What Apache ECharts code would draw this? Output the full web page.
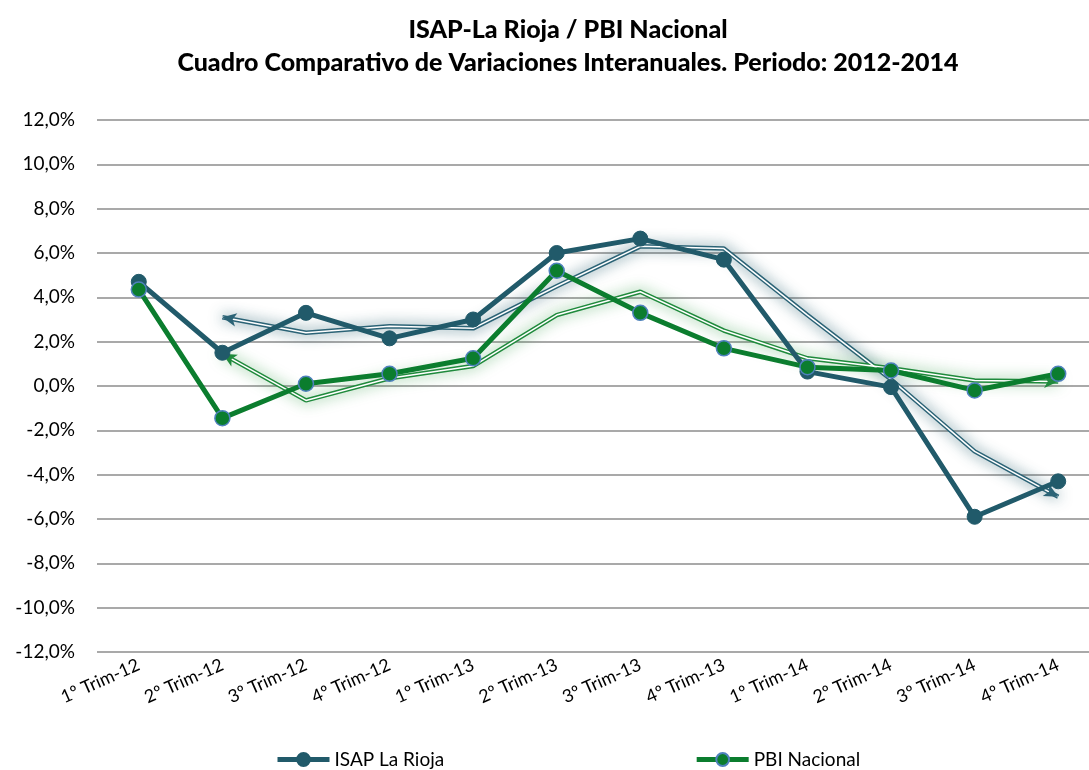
<!DOCTYPE html>
<html>
<head>
<meta charset="utf-8">
<script src="https://cdn.jsdelivr.net/npm/echarts@6/dist/echarts.min.js"></script>
<style>html,body{margin:0;padding:0;background:#fff;overflow:hidden;width:1089px;height:770px;}#c{width:1136px;height:770px;}</style>
</head>
<body>
<div id="c"></div>
<script>
const categories = ['1º Trim-12','2º Trim-12','3º Trim-12','4º Trim-12','1º Trim-13','2º Trim-13','3º Trim-13','4º Trim-13','1º Trim-14','2º Trim-14','3º Trim-14','4º Trim-14'];
const isapValues = [4.7, 1.5, 3.3, 2.15, 3.0, 6.0, 6.65, 5.7, 0.65, -0.05, -5.9, -4.3];
const pbiValues = [4.35, -1.45, 0.1, 0.55, 1.25, 5.2, 3.3, 1.7, 0.85, 0.7, -0.2, 0.55];
const isapTrend = [null, 3.1, 2.4, 2.7, 2.6, 4.5, 6.3, 6.2, 3.2, 0.3, -2.95, -5.0];
const pbiTrend = [null, 1.45, -0.65, 0.35, 0.9, 3.2, 4.25, 2.5, 1.25, 0.8, 0.25, 0.2];
const yTicks = [-12, -10, -8, -6, -4, -2, 0, 2, 4, 6, 8, 10, 12];

const TEAL = '#215a6a';
const GREEN = '#0b7d2e';
const FONT = 'Lato, "Open Sans", sans-serif';

function trendSeries(name, data, color, glow) {
  const first = data.findIndex(v => v !== null);
  const last = data.length - 1;
  return [{
    name: name,
    type: 'line',
    data: data,
    symbol: 'none',
    z: 1,
    silent: true,
    lineStyle: { color: color, width: 4.5, shadowBlur: 14, shadowColor: glow },
    markLine: {
      silent: true,
      symbolSize: [10, 14],
      label: { show: false },
      lineStyle: { color: color, width: 0, type: 'solid' },
      data: [
        [{ coord: [categories[first + 1], data[first + 1]], symbol: 'none' },
         { coord: [categories[first], data[first]], symbol: 'arrow' }],
        [{ coord: [categories[last - 1], data[last - 1]], symbol: 'none' },
         { coord: [categories[last], data[last]], symbol: 'arrow' }]
      ]
    }
  }, {
    name: name + '_inner',
    type: 'line',
    data: data,
    symbol: 'none',
    z: 2,
    silent: true,
    lineStyle: { color: '#ffffff', width: 1.5 }
  }];
}

const chart = echarts.init(document.getElementById('c'), null, { renderer: 'canvas' });
chart.setOption({
  animation: false,
  backgroundColor: '#ffffff',
  title: {
    text: 'ISAP-La Rioja / PBI Nacional\nCuadro Comparativo de Variaciones Interanuales. Periodo: 2012-2014',
    left: 'center',
    top: 8,
    textStyle: { fontFamily: FONT, fontWeight: 900, fontSize: 25, lineHeight: 33, color: '#000' }
  },
  legend: {
    data: ['ISAP La Rioja', 'PBI Nacional'],
    top: 745,
    left: 270,
    itemWidth: 52,
    itemHeight: 16,
    itemGap: 250,
    lineStyle: { width: 5 },
    textStyle: { fontFamily: FONT, fontSize: 19, color: '#000' }
  },
  grid: { left: 97, top: 120, right: 36, height: 532, containLabel: false },
  xAxis: {
    type: 'category',
    data: categories,
    boundaryGap: true,
    axisLine: { show: false },
    axisTick: { show: false },
    axisLabel: { rotate: 24, fontFamily: FONT, fontSize: 18, color: '#000', margin: 12, interval: 0 }
  },
  yAxis: {
    type: 'value',
    min: yTicks[0],
    max: yTicks[yTicks.length - 1],
    interval: 2,
    axisLine: { show: false },
    axisTick: { show: false },
    splitLine: { lineStyle: { color: '#8c8c8c', width: 1.5 } },
    axisLabel: {
      fontFamily: FONT, fontSize: 19, color: '#000', margin: 22,
      formatter: v => v.toFixed(1).replace('.', ',') + '%'
    }
  },
  series: [
    ...trendSeries('ISAP tendencia', isapTrend, '#2b6376', 'rgba(33,90,106,0.8)'),
    ...trendSeries('PBI tendencia', pbiTrend, '#1f8a3c', 'rgba(40,150,60,0.65)'),
    {
      name: 'ISAP La Rioja',
      type: 'line',
      data: isapValues,
      z: 5,
      symbol: 'circle',
      symbolSize: 15,
      lineStyle: { color: TEAL, width: 5 },
      itemStyle: { color: TEAL, borderColor: TEAL, borderWidth: 1 }
    },
    {
      name: 'PBI Nacional',
      type: 'line',
      data: pbiValues,
      z: 6,
      symbol: 'circle',
      symbolSize: 15,
      lineStyle: { color: GREEN, width: 5 },
      itemStyle: { color: GREEN, borderColor: '#4f81bd', borderWidth: 1.5 }
    }
  ]
});
</script>
</body>
</html>
